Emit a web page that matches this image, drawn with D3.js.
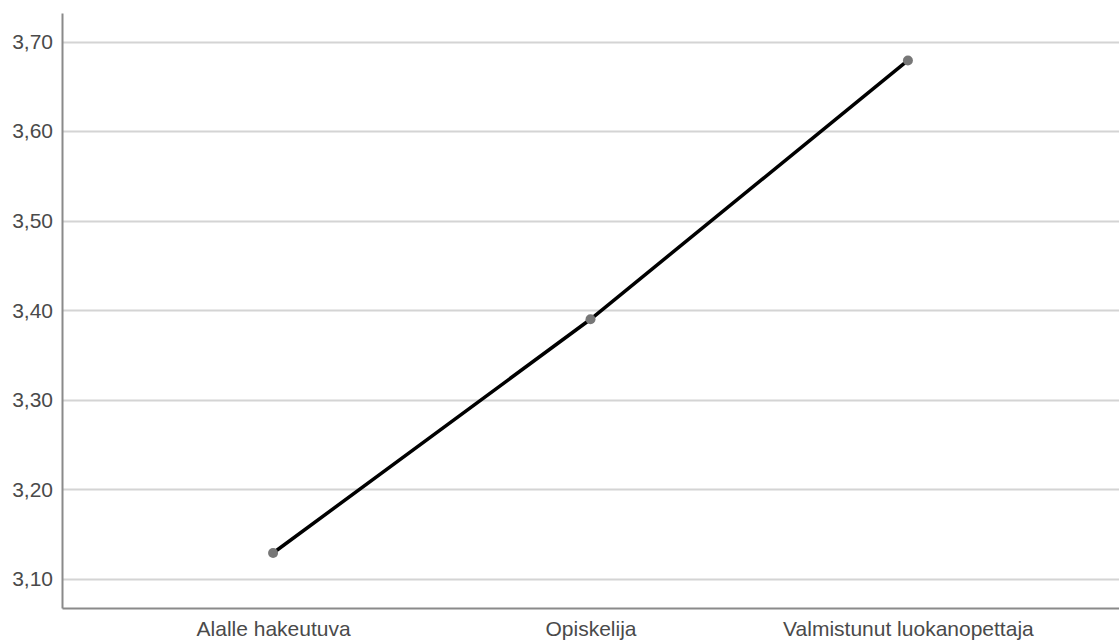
<!DOCTYPE html>
<html>
<head>
<meta charset="utf-8">
<script src="https://cdn.jsdelivr.net/npm/d3@7"></script>
<style>
  body { margin: 0; background: #fff; }
  text { font-family: "Liberation Sans", Arial, sans-serif; }
</style>
</head>
<body>
<div id="chart"></div>
<script>
// data
const categories = ["Alalle hakeutuva", "Opiskelija", "Valmistunut luokanopettaja"];
const means = [3.129, 3.390, 3.679];
const yTicks = [3.10, 3.20, 3.30, 3.40, 3.50, 3.60, 3.70];

const width = 1119;
const height = 643;
const margins = { top: 13, right: 0, bottom: 35, left: 62 };

const svg = d3.select("#chart")
    .append("svg")
        .attr("width", width)
        .attr("height", height);

const x = d3.scalePoint()
    .domain(categories)
    .range([margins.left, width - margins.right])
    .padding(0.665);

const y = d3.scaleLinear()
    .domain([3.0676, 3.732])
    .range([height - margins.bottom, margins.top]);

const fmt = v => d3.format(".2f")(v).replace(".", ",");

// grid lines
svg.append("g")
    .selectAll("line")
    .data(yTicks)
    .enter()
    .append("line")
        .attr("x1", margins.left)
        .attr("x2", width)
        .attr("y1", d => Math.round(y(d)) + 0.5)
        .attr("y2", d => Math.round(y(d)) + 0.5)
        .attr("stroke", "#d4d4d4")
        .attr("stroke-width", 2);

// y axis
const yAxis = svg.append("g")
    .attr("transform", `translate(${margins.left}, 0)`)
    .call(d3.axisLeft(y).tickValues(yTicks).tickFormat(fmt).tickSize(0).tickPadding(9));
yAxis.select(".domain").attr("stroke", "#8a8a8a").attr("stroke-width", 2);
yAxis.selectAll("text")
    .attr("font-size", "21px")
    .attr("fill", "#4a4a4a");

// x axis
const xAxis = svg.append("g")
    .attr("transform", `translate(0, ${height - margins.bottom})`)
    .call(d3.axisBottom(x).tickSize(0).tickPadding(13));
xAxis.select(".domain").attr("stroke", "#8a8a8a").attr("stroke-width", 2);
xAxis.selectAll("text")
    .attr("font-size", "21px")
    .attr("fill", "#4a4a4a");

// the line
const line = d3.line()
    .x((d, i) => x(categories[i]))
    .y(d => y(d));

svg.append("path")
    .datum(means)
    .attr("d", line)
    .attr("fill", "none")
    .attr("stroke", "#000")
    .attr("stroke-width", 3.5);

svg.selectAll(".dot")
    .data(means)
    .enter()
    .append("circle")
        .attr("cx", (d, i) => x(categories[i]))
        .attr("cy", d => y(d))
        .attr("r", 5)
        .attr("fill", "#777");
</script>
</body>
</html>
